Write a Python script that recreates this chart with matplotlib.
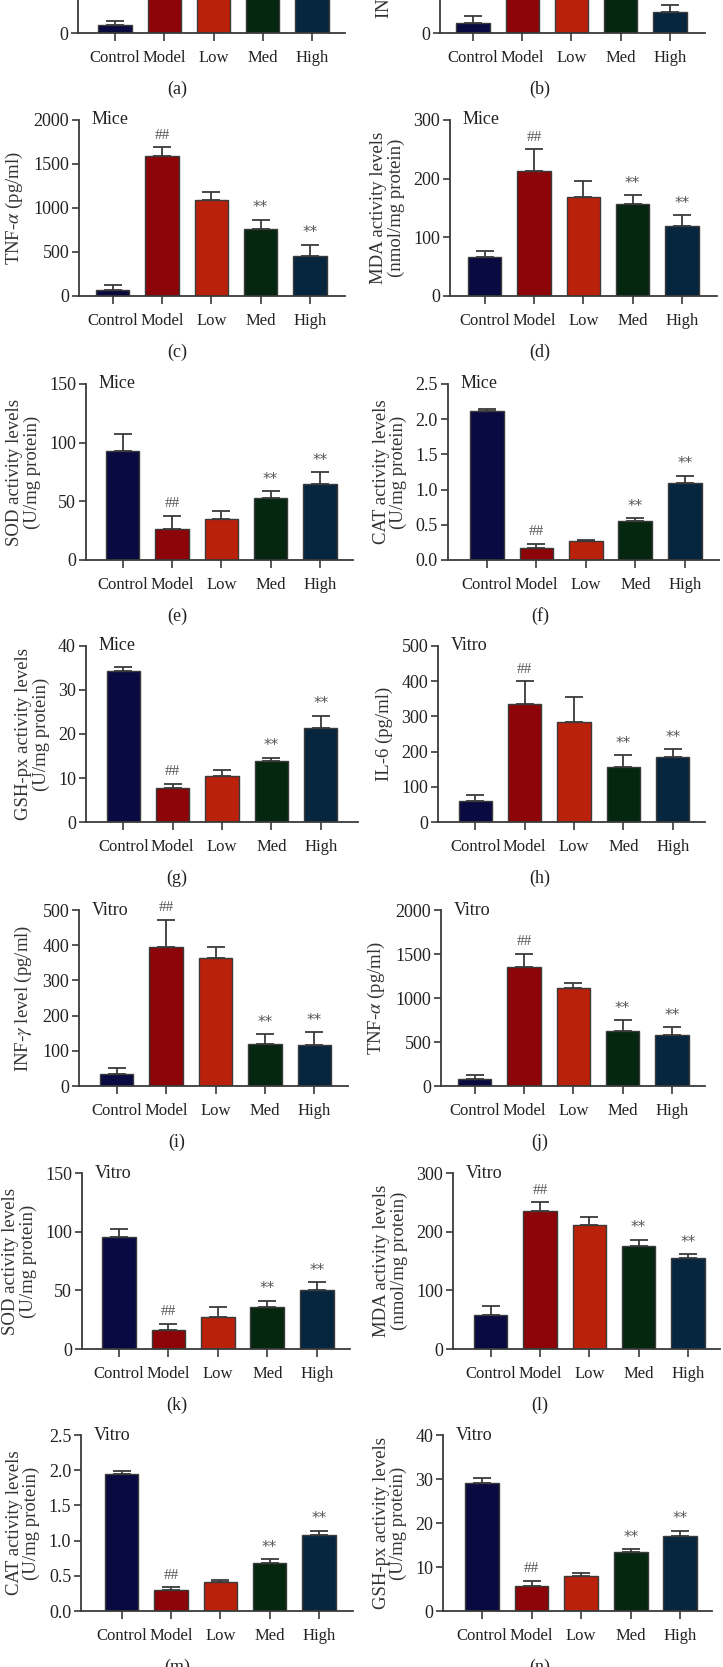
import numpy as np
import matplotlib
matplotlib.use('Agg')
import matplotlib.pyplot as plt

plt.rcParams['font.family'] = ['Liberation Serif', 'DejaVu Serif']
plt.rcParams['mathtext.fontset'] = 'stix'

W, H = 723, 1667

groups = ['Control', 'Model', 'Low', 'Med', 'High']
bar_colors = ['#0a0a42', '#8c0408', '#b9210a', '#05260f', '#062640']
marks = ['', '##', '', '**', '**']

# values (mean, upper error)
il6_mice = [26, 420, 380, 300, 250]
il6_mice_err = [15, 40, 45, 30, 30]
inf_mice = [33, 430, 400, 320, 71]
inf_mice_err = [26, 60, 40, 35, 25]
tnf_mice = [72, 1591, 1091, 758, 455]
tnf_mice_err = [57, 102, 95, 110, 125]
mda_mice = [67, 213, 168, 156, 119]
mda_mice_err = [9, 37, 28, 16, 19]
sod_mice = [93, 26, 35, 52.5, 65]
sod_mice_err = [14.6, 11.6, 6.8, 6.3, 9.6]
cat_mice = [2.11, 0.176, 0.27, 0.548, 1.09]
cat_mice_err = [0.04, 0.057, 0.02, 0.047, 0.11]
gsh_mice = [34.4, 7.7, 10.5, 13.8, 21.4]
gsh_mice_err = [0.8, 1.0, 1.4, 0.8, 2.8]
il6_vitro = [61, 334, 284, 156, 184]
il6_vitro_err = [17, 66, 72, 34, 23]
inf_vitro = [34, 394, 365, 120, 116]
inf_vitro_err = [16, 78, 30, 27, 36]
tnf_vitro = [76, 1350, 1112, 620, 575]
tnf_vitro_err = [53, 151, 64, 129, 91]
sod_vitro = [95.6, 16.1, 27.2, 35.7, 50.3]
sod_vitro_err = [6.8, 5.4, 8.5, 5.4, 6.5]
mda_vitro = [57.8, 234.4, 212, 175.2, 154.7]
mda_vitro_err = [15.9, 15.4, 13.8, 10.8, 6.8]
cat_vitro = [1.94, 0.297, 0.415, 0.684, 1.08]
cat_vitro_err = [0.046, 0.038, 0.028, 0.052, 0.057]
gsh_vitro = [29.2, 5.7, 7.9, 13.3, 17.1]
gsh_vitro_err = [1.0, 1.2, 0.8, 0.7, 1.1]

sod_lab = 'SOD activity levels\n(U/mg protein)'
mda_lab = 'MDA activity levels\n(nmol/mg protein)'
cat_lab = 'CAT activity levels\n(U/mg protein)'
gsh_lab = 'GSH-px activity levels\n(U/mg protein)'

# (vals, errs, ymax, ystep, ylabel, tag, panel)
panels = [
    (il6_mice, il6_mice_err, 600, 200, 'IL-6 (pg/ml)', 'Mice', '(a)'),
    (inf_mice, inf_mice_err, 600, 200, r'INF-$\gamma$ level (pg/ml)', 'Mice', '(b)'),
    (tnf_mice, tnf_mice_err, 2000, 500, r'TNF-$\alpha$ (pg/ml)', 'Mice', '(c)'),
    (mda_mice, mda_mice_err, 300, 100, mda_lab, 'Mice', '(d)'),
    (sod_mice, sod_mice_err, 150, 50, sod_lab, 'Mice', '(e)'),
    (cat_mice, cat_mice_err, 2.5, 0.5, cat_lab, 'Mice', '(f)'),
    (gsh_mice, gsh_mice_err, 40, 10, gsh_lab, 'Mice', '(g)'),
    (il6_vitro, il6_vitro_err, 500, 100, 'IL-6 (pg/ml)', 'Vitro', '(h)'),
    (inf_vitro, inf_vitro_err, 500, 100, r'INF-$\gamma$ level (pg/ml)', 'Vitro', '(i)'),
    (tnf_vitro, tnf_vitro_err, 2000, 500, r'TNF-$\alpha$ (pg/ml)', 'Vitro', '(j)'),
    (sod_vitro, sod_vitro_err, 150, 50, sod_lab, 'Vitro', '(k)'),
    (mda_vitro, mda_vitro_err, 300, 100, mda_lab, 'Vitro', '(l)'),
    (cat_vitro, cat_vitro_err, 2.5, 0.5, cat_lab, 'Vitro', '(m)'),
    (gsh_vitro, gsh_vitro_err, 40, 10, gsh_lab, 'Vitro', '(n)'),
]

# pixel layout: spine x, first bar x, last bar x, axis end x, baseline y
layout = [
    (78, 115, 312, 345, 33), (440, 473, 670, 705, 33),
    (79, 112.7, 310, 345, 296), (449.7, 484.7, 682, 717, 296),
    (85.7, 122.7, 320, 353, 560), (447.7, 487, 684.7, 718.7, 560),
    (85.7, 123.3, 320.7, 358, 822), (438, 475.3, 672.7, 705.3, 822),
    (79, 116.7, 314.3, 348, 1086), (441, 474.7, 672, 705.3, 1086),
    (81.7, 119, 316.7, 350, 1349), (452.7, 490.7, 688, 720, 1349),
    (81, 121.7, 319, 353, 1611), (443, 482, 680.3, 712, 1611),
]
AX_H = 176
EDGE = '#3a3a3a'
TXT = '#222222'

fig = plt.figure(figsize=(W / 100, H / 100), dpi=100)
fig.patch.set_facecolor('white')

for k, ((vals, errs, ymax, ystep, ylab, tag, plab), (sx, cx, hx, rx, by)) in enumerate(zip(panels, layout)):
    ax = fig.add_axes([sx / W, 1 - by / H, (rx - sx) / W, AX_H / H])
    sp = (hx - cx) / 4
    x = np.arange(len(groups))
    ax.bar(x, vals, width=0.68, color=bar_colors, edgecolor=EDGE, linewidth=1.0, zorder=2)
    ax.errorbar(x, vals, yerr=[np.zeros(len(vals)), errs], fmt='none', ecolor=EDGE,
                elinewidth=1.3, capsize=6.5, capthick=1.3, zorder=1)
    for i, m in enumerate(marks):
        if m:
            ax.annotate(m, (x[i], vals[i] + errs[i]), xytext=(0, 12), textcoords='offset pixels',
                        ha='center', va='center', fontsize=11, color='#555555',
                        family=['DejaVu Sans'] if m == '**' else None)
    ax.set_xlim(-(cx - sx) / sp, 4 + (rx - hx) / sp)
    ax.set_ylim(0, ymax)
    ticks = np.arange(0, ymax + ystep / 2, ystep)
    ax.set_yticks(ticks)
    if ystep < 1:
        ax.set_yticklabels([f'{t:.1f}' for t in ticks])
    else:
        ax.set_yticklabels([f'{int(t)}' for t in ticks])
    ax.set_xticks(x)
    ax.set_xticklabels(groups)
    for s in ['top', 'right']:
        ax.spines[s].set_visible(False)
    for s in ['left', 'bottom']:
        ax.spines[s].set_color(EDGE)
        ax.spines[s].set_linewidth(1.3)
    ax.tick_params(axis='y', direction='out', length=5, width=1.2, color=EDGE,
                   labelsize=13, pad=2, labelcolor=TXT)
    ax.tick_params(axis='x', direction='out', length=6, width=1.2, color=EDGE,
                   labelsize=12, pad=6, labelcolor=TXT)
    ax.set_ylabel(ylab, fontsize=13.5, color='#333333', labelpad=6, linespacing=1.0)
    ax.text(13 / (rx - sx), 1.0, tag, transform=ax.transAxes, ha='left', va='center',
            fontsize=13, color=TXT)
    col_c = 177 if k % 2 == 0 else 540
    fig.text(col_c / W, 1 - (by + 56) / H, plab, ha='center', va='center',
             fontsize=13, color=TXT)

fig.savefig('out.png', dpi=100, facecolor='white')
